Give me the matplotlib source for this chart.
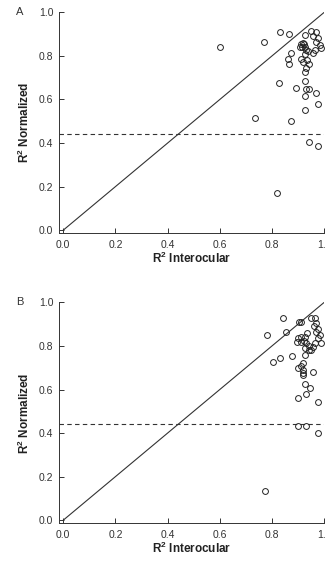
import numpy as np
import matplotlib
matplotlib.use('Agg')
import matplotlib.pyplot as plt
from matplotlib import rcParams

rcParams['font.family'] = ['Liberation Sans', 'DejaVu Sans']
rcParams['mathtext.fontset'] = 'custom'
rcParams['mathtext.rm'] = 'Liberation Sans'
rcParams['mathtext.bf'] = 'Liberation Sans:bold'

# panel A: R^2 interocular vs R^2 normalized
a_x = [0.600, 0.771, 0.829, 0.867, 0.873, 0.860, 0.867, 0.825, 0.893, 0.733,
       0.873, 0.820,
       0.925, 0.950, 0.969, 0.957, 0.976, 0.967, 0.982, 0.986, 0.963, 0.957,
       0.918, 0.912, 0.922, 0.927, 0.916, 0.907, 0.931, 0.937, 0.925, 0.912,
       0.918, 0.935, 0.940, 0.931, 0.925, 0.925, 0.931, 0.940, 0.967, 0.925,
       0.978, 0.925, 0.940, 0.978]
a_y = [0.840, 0.862, 0.911, 0.899, 0.815, 0.787, 0.761, 0.674, 0.651, 0.515,
       0.502, 0.172,
       0.896, 0.916, 0.908, 0.891, 0.880, 0.865, 0.850, 0.838, 0.827, 0.812,
       0.861, 0.853, 0.853, 0.842, 0.842, 0.842, 0.827, 0.824, 0.809, 0.784,
       0.773, 0.781, 0.763, 0.743, 0.727, 0.686, 0.646, 0.646, 0.631, 0.616,
       0.577, 0.554, 0.406, 0.387]

# panel B
b_x = [0.782, 0.844, 0.854, 0.803, 0.829, 0.876, 0.905, 0.912, 0.948, 0.966,
       0.969, 0.960, 0.976, 0.967, 0.982, 0.976, 0.986, 0.963, 0.957, 0.940,
       0.950, 0.934, 0.925, 0.912, 0.899, 0.896, 0.910, 0.922, 0.931, 0.940,
       0.925, 0.925, 0.918, 0.912, 0.900, 0.918, 0.918, 0.918, 0.957, 0.925,
       0.945, 0.931, 0.899, 0.976, 0.900, 0.931, 0.978, 0.775]
b_y = [0.848, 0.926, 0.865, 0.727, 0.743, 0.753, 0.908, 0.911, 0.930, 0.926,
       0.907, 0.891, 0.876, 0.865, 0.850, 0.835, 0.812, 0.812, 0.796, 0.781,
       0.781, 0.861, 0.842, 0.839, 0.835, 0.819, 0.819, 0.824, 0.812, 0.799,
       0.789, 0.758, 0.723, 0.708, 0.697, 0.689, 0.677, 0.666, 0.681, 0.625,
       0.605, 0.579, 0.562, 0.544, 0.432, 0.432, 0.401, 0.133]

threshold = 0.44
ticks = [0.0, 0.2, 0.4, 0.6, 0.8, 1.0]


def panel(ax, xs, ys, letter):
    ax.plot([0, 1], [0, 1], color='#333333', linewidth=0.8)
    ax.axhline(threshold, color='#333333', linewidth=0.8,
               linestyle=(0, (4, 3)))
    ax.plot(xs, ys, linestyle='none', marker='o', markersize=4.2,
            markerfacecolor='none', markeredgecolor='#222222',
            markeredgewidth=0.7)
    ax.set_xlim(-0.016, 1.0)
    ax.set_ylim(-0.014, 1.0)
    ax.set_xticks(ticks)
    ax.set_yticks(ticks)
    ax.set_xticklabels(['{:.1f}'.format(t) for t in ticks])
    ax.set_yticklabels(['{:.1f}'.format(t) for t in ticks])
    ax.spines['top'].set_visible(False)
    ax.spines['right'].set_visible(False)
    for s in ('left', 'bottom'):
        ax.spines[s].set_linewidth(0.7)
        ax.spines[s].set_color('#333333')
    ax.tick_params(labelsize=7.5, length=3.8, width=0.7, colors='#333333',
                   direction='in')
    ax.tick_params(axis='y', pad=4)
    ax.tick_params(axis='x', pad=5)
    ax.set_xlabel(r'R$^{\mathbf{2}}$ Interocular', fontsize=8.5,
                  fontweight='bold', labelpad=0.5, color='#222222')
    ax.set_ylabel(r'R$^{\mathbf{2}}$ Normalized', fontsize=8.5,
                  fontweight='bold', labelpad=5, color='#222222')
    ax.text(-0.148, 1.0, letter, transform=ax.transAxes, fontsize=8,
            ha='center', va='center', color='#333333')


fig = plt.figure(figsize=(3.26, 5.68), dpi=100)
ax_a = fig.add_axes([0.181, 0.5893, 0.8135, 0.389])
ax_b = fig.add_axes([0.181, 0.0787, 0.8135, 0.389])
panel(ax_a, a_x, a_y, 'A')
panel(ax_b, b_x, b_y, 'B')

fig.savefig('out.png', dpi=100)
